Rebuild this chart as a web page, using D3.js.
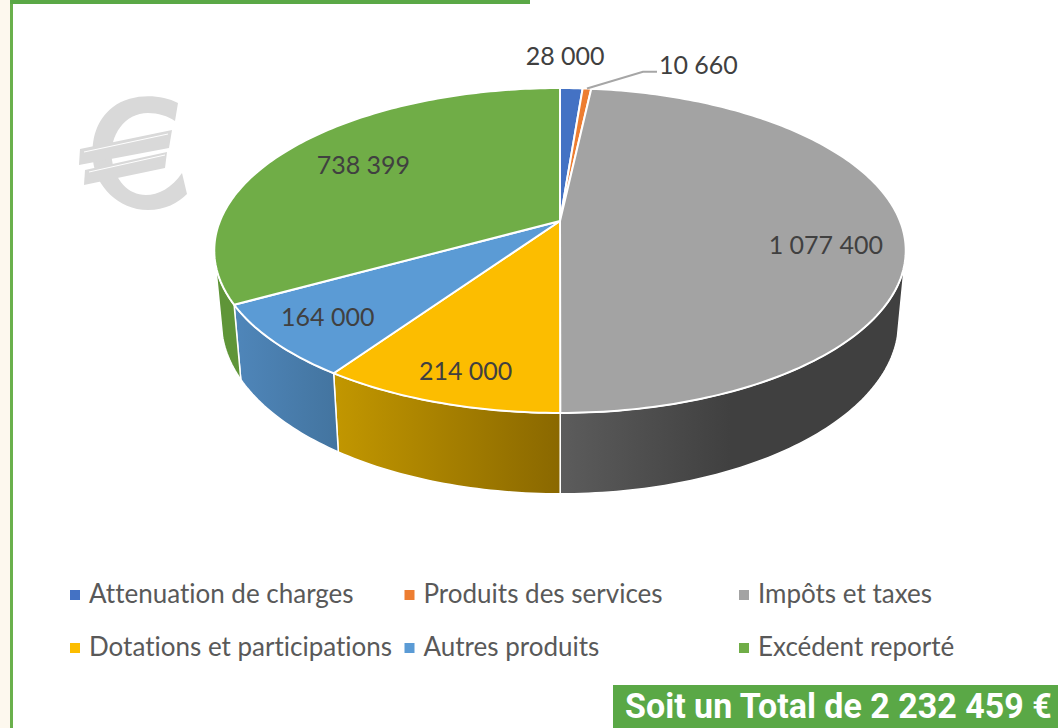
<!DOCTYPE html>
<html>
<head>
<meta charset="utf-8">
<script src="https://cdn.jsdelivr.net/npm/d3@7"></script>
<style>
  html, body { margin: 0; padding: 0; background: #fff; overflow: hidden; }
  svg { display: block; }
  text { font-variant-ligatures: none; }
</style>
</head>
<body>
<script>
// chart data
var categories = ["Attenuation de charges", "Produits des services", "Impôts et taxes",
                  "Dotations et participations", "Autres produits", "Excédent reporté"];
var values = [28000, 10660, 1077400, 214000, 164000, 738399];
var totalLabel = "Soit un Total de 2 232 459 €";

var colors = ["#4472c4", "#ed7d31", "#a3a3a3", "#fcbd00", "#5b9bd5", "#70ad47"];
// wall shading, left and right end of each slice
var wallColors = [["#3a62a8", "#3a62a8"], ["#c96a29", "#c96a29"], ["#5c5c5c", "#404040"],
                  ["#c29700", "#8a6800"], ["#4f86ba", "#43749f"], ["#5f9538", "#5f9538"]];

// how far out each label sits (1 = rim) and a small nudge in pixels
var labelRadius = [1.3, 1.2, 0.78, 0.85, 0.82, 0.75];
var labelNudge = [[-9, 0], [107, -2], [-1, 18], [6, 1], [-3, 0], [9, 0]];

var width = 1058;
var height = 728;

var svg = d3.select("body")
            .append("svg")
            .attr("width", width)
            .attr("height", height);

// page frame
svg.append("rect").attr("width", 10).attr("height", height).attr("fill", "#fdf8ee");
svg.append("rect").attr("x", 10).attr("width", 3).attr("height", height).attr("fill", "#6ab04c");
svg.append("rect").attr("x", 10).attr("width", 520).attr("height", 4).attr("fill", "#5aa846");

// euro watermark
var euro = svg.append("g").attr("fill", "#d9d9d9");
euro.append("path")
    .attr("d", "M178,103 C160,94 132,93 113,107 C96,120 91,140 93,160 C95,185 118,210 148,210 " +
               "C165,210 178,203 187,194 L182,173 C172,188 158,195 146,195 C128,195 115,180 112,160 " +
               "C109,135 125,113 148,113 C158,113 168,116 175,121 Z");
euro.append("path").attr("d", "M80,149 L172,130 L169,148 L79,165 Z");
euro.append("path").attr("d", "M85,170 L167,152 L165,168 L84,185 Z");
euro.append("path").attr("d", "M84,152 L168,134").attr("stroke", "#fff").attr("stroke-width", 1).attr("fill", "none");
euro.append("path").attr("d", "M89,172 L165,155").attr("stroke", "#fff").attr("stroke-width", 1).attr("fill", "none");

// the tilted disc: clock angle to screen, with the perspective of the 3D pie
var cx = 560;
var tilt = 0.1815;
var topPlane = { r: 340, b: 157.1, y0: 221 };
var basePlane = { r: 333, b: 166, y0: 291 };

function project(plane, angle, radius) {
  var x = Math.sin(angle) * radius;
  var y = Math.cos(angle) * radius;
  var w = 1 + tilt * y;
  return [cx + plane.r * x / w, plane.y0 - plane.b * y / w];
}

var pie = d3.pie().sort(null);
var slices = pie(values);
var line = d3.line();
var rad = Math.PI / 180;

function arcPoints(plane, a, b) {
  var n = Math.max(2, Math.ceil((b - a) / rad));
  return d3.range(n + 1).map(function(i) {
    return project(plane, a + (b - a) * i / n, 1);
  });
}

// only the front of the wall can be seen
var wallStart = 105 * rad;
var wallEnd = 255 * rad;

var defs = svg.append("defs");
var walls = svg.append("g");

slices.forEach(function(d, i) {
  var a = Math.max(d.startAngle, wallStart);
  var b = Math.min(d.endAngle, wallEnd);
  if (b <= a) return;
  var upper = arcPoints(topPlane, a, b);
  var lower = arcPoints(basePlane, a, b).reverse();
  var xs = d3.extent(upper.concat(lower), function(p) { return p[0]; });

  var grad = defs.append("linearGradient")
                 .attr("id", "wall" + i)
                 .attr("gradientUnits", "userSpaceOnUse")
                 .attr("x1", xs[0]).attr("x2", i == 2 ? xs[0] + 170 : xs[1])
                 .attr("y1", 0).attr("y2", 0);
  grad.append("stop").attr("offset", 0).attr("stop-color", wallColors[i][0]);
  grad.append("stop").attr("offset", 1).attr("stop-color", wallColors[i][1]);

  walls.append("path")
       .attr("d", line(upper.concat(lower)) + "Z")
       .attr("fill", "url(#wall" + i + ")")
       .attr("stroke", "#fff")
       .attr("stroke-width", 1.5)
       .attr("stroke-linejoin", "round");
});

// top of the pie
svg.append("g").selectAll("path")
   .data(slices)
   .enter()
   .append("path")
   .attr("d", function(d) {
     return line([[cx, topPlane.y0]].concat(arcPoints(topPlane, d.startAngle, d.endAngle))) + "Z";
   })
   .attr("fill", function(d, i) { return colors[i]; })
   .attr("stroke", "#fff")
   .attr("stroke-width", 2)
   .attr("stroke-linejoin", "round");

// value labels
var frFormat = d3.formatLocale({ decimal: ",", thousands: " ", grouping: [3], currency: ["", " €"] }).format(",");

function labelPoint(d, i) {
  var p = project(topPlane, (d.startAngle + d.endAngle) / 2, labelRadius[i]);
  return [p[0] + labelNudge[i][0], p[1] + labelNudge[i][1]];
}

// leader line for the thin orange slice
var orange = slices[1];
var rim = project(topPlane, (orange.startAngle + orange.endAngle) / 2, 1);
var orangeLabel = labelPoint(orange, 1);
svg.append("path")
   .attr("d", line([rim, [rim[0] + 56, orangeLabel[1] + 7], [rim[0] + 70, orangeLabel[1] + 7]]))
   .attr("fill", "none")
   .attr("stroke", "#a6a6a6")
   .attr("stroke-width", 2);

svg.append("g").selectAll("text")
   .data(slices)
   .enter()
   .append("text")
   .attr("x", function(d, i) { return labelPoint(d, i)[0]; })
   .attr("y", function(d, i) { return labelPoint(d, i)[1]; })
   .attr("dy", "0.35em")
   .attr("text-anchor", "middle")
   .style("font-family", "Lato, 'Open Sans', sans-serif")
   .style("font-size", "25px")
   .attr("fill", "#404040")
   .text(function(d) { return frFormat(d.value); });

// legend, three columns on two rows
var legendX = d3.scaleLinear().domain([0, 2]).range([70, 739]);
var legendY = d3.scaleLinear().domain([0, 1]).range([595, 648]);

var legend = svg.append("g").selectAll("g")
   .data(categories)
   .enter()
   .append("g")
   .attr("transform", function(d, i) {
     return "translate(" + legendX(i % 3) + "," + legendY(Math.floor(i / 3)) + ")";
   });

legend.append("rect")
   .attr("y", -5)
   .attr("width", 10)
   .attr("height", 10)
   .attr("fill", function(d, i) { return colors[i]; });

legend.append("text")
   .attr("x", 19)
   .attr("y", -1)
   .attr("dy", "0.35em")
   .style("font-family", "Lato, 'Open Sans', sans-serif")
   .style("font-size", "26px")
   .attr("fill", "#595959")
   .text(function(d) { return d; });

// total box
svg.append("rect")
   .attr("x", 613).attr("y", 685)
   .attr("width", 445).attr("height", 43)
   .attr("fill", "#5aa846");

// squeeze the bold text sideways so it fits the box like the narrow original
var total = svg.append("text")
   .style("font-family", "Roboto, sans-serif")
   .style("font-weight", "bold")
   .style("font-size", "35px")
   .attr("fill", "#fff")
   .text(totalLabel);
var squeeze = 427 / total.node().getComputedTextLength();
total.attr("transform", "translate(625,718) scale(" + squeeze + ",1)");
</script>
</body>
</html>
